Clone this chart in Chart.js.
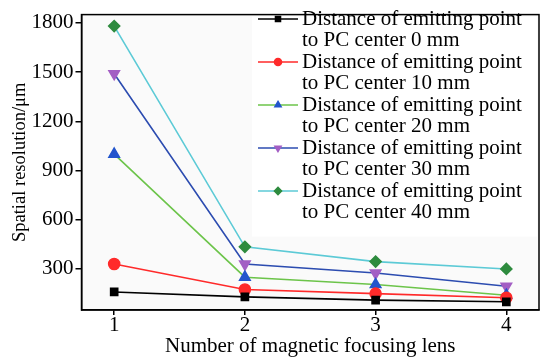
<!DOCTYPE html>
<html><head><meta charset="utf-8">
<script src="https://cdn.jsdelivr.net/npm/chart.js@4/dist/chart.umd.min.js"></script>
<style>html,body{margin:0;padding:0;background:#fff}#wrap{width:547px;height:361px}</style>
</head><body><div id="wrap"><canvas id="c" width="547" height="361"></canvas></div>
<script>
const lensCounts = [1, 2, 3, 4];
const labels = [
  "Distance of emitting point\nto PC center 0 mm",
  "Distance of emitting point\nto PC center 10 mm",
  "Distance of emitting point\nto PC center 20 mm",
  "Distance of emitting point\nto PC center 30 mm",
  "Distance of emitting point\nto PC center 40 mm"
];
const d0 = [160, 130, 110, 100];
const d10 = [330, 175, 150, 125];
const d20 = [1000, 250, 205, 140];
const d30 = [1490, 330, 275, 195];
const d40 = [1780, 435, 345, 300];
const yTicks = [300, 600, 900, 1200, 1500, 1800];
const xTicks = [1, 2, 3, 4];

const lineColors = ['#000000', '#ff2a2a', '#6cc44a', '#2c4cb0', '#5ccad6'];
const markColors = ['#000000', '#ff2a2a', '#2255cc', '#a35ec4', '#2e8b3e'];
const markStyles = ['rect', 'circle', 'triangle', 'triangle', 'rectRot'];
const markRot = [0, 0, 0, 180, 0];
const markRad = [5, 5.5, 6, 6, 5.5];
const series = [d0, d10, d20, d30, d40];
const FONT = "'Liberation Serif', 'Times New Roman', serif";

const datasets = series.map((s, i) => ({
  label: labels[i],
  data: s.map((v, j) => ({x: lensCounts[j], y: v})),
  borderColor: lineColors[i],
  backgroundColor: markColors[i],
  pointBackgroundColor: markColors[i],
  pointBorderColor: markColors[i],
  pointStyle: markStyles[i],
  rotation: markRot[i],
  pointRadius: markRad[i],
  borderWidth: 1.6,
  tension: 0
}));

const framePlugin = {
  id: 'frame',
  beforeDraw(chart) {
    const {ctx, chartArea: a} = chart;
    ctx.save();
    ctx.fillStyle = '#fafafa';
    ctx.fillRect(a.left, a.top, a.right - a.left, a.bottom - a.top);
    ctx.restore();
  },
  afterDraw(chart) {
    const {ctx, chartArea: a} = chart;
    ctx.save();
    ctx.strokeStyle = '#000';
    ctx.lineWidth = 1.5;
    ctx.strokeRect(a.left, a.top, a.right - a.left, a.bottom - a.top);
    ctx.restore();
  }
};

const legendPlugin = {
  id: 'customLegend',
  afterDatasetsDraw(chart) {
    const {ctx, chartArea: a} = chart;
    ctx.save();
    const x0 = 252, y0 = a.top + 2;
    ctx.fillStyle = '#ffffff';
    ctx.fillRect(x0, y0, a.right - x0 - 2, 220);
    ctx.font = '21px ' + FONT;
    ctx.textBaseline = 'middle';
    ctx.textAlign = 'left';
    const lineH = 21.5;
    chart.data.datasets.forEach((ds, i) => {
      const yy = 19 + i * 2 * lineH;
      ctx.strokeStyle = ds.borderColor;
      ctx.lineWidth = 1.6;
      ctx.beginPath(); ctx.moveTo(258, yy); ctx.lineTo(298, yy); ctx.stroke();
      ctx.fillStyle = ds.pointBackgroundColor;
      ctx.strokeStyle = ds.pointBorderColor;
      Chart.helpers.drawPoint(ctx, {pointStyle: ds.pointStyle, rotation: ds.rotation, radius: 3.5, borderWidth: 1}, 278, yy);
      ctx.fillStyle = '#000';
      ds.label.split('\n').forEach((t, k) => ctx.fillText(t, 302, yy + k * lineH));
    });
    ctx.restore();
  }
};

new Chart(document.getElementById('c'), {
  type: 'line',
  data: {datasets},
  options: {
    responsive: false,
    animation: false,
    layout: {padding: {left: 9, right: 8, top: 5, bottom: 4}},
    plugins: {legend: {display: false}, tooltip: {enabled: false}},
    scales: {
      x: {
        type: 'linear', min: 0.75, max: 4.25,
        afterBuildTicks: s => { s.ticks = xTicks.map(v => ({value: v})); },
        grid: {drawOnChartArea: false, drawTicks: true, tickLength: 5, color: '#000', lineWidth: 1.5},
        border: {color: '#000', width: 1.5},
        ticks: {color: '#000', font: {family: FONT, size: 21, lineHeight: 1.0}, padding: 0, maxRotation: 0, callback: v => String(v)},
        title: {display: true, text: 'Number of magnetic focusing lens', color: '#000', font: {family: FONT, size: 21, lineHeight: 1.0}, padding: {top: 0, bottom: 0}}
      },
      y: {
        type: 'linear', min: 50, max: 1850,
        afterBuildTicks: s => { s.ticks = yTicks.map(v => ({value: v})); },
        grid: {drawOnChartArea: false, drawTicks: true, tickLength: 6, color: '#000', lineWidth: 1.5},
        border: {color: '#000', width: 1.5},
        ticks: {color: '#000', font: {family: FONT, size: 21}, padding: 2, callback: v => String(v)},
        title: {display: true, text: 'Spatial resolution/μm', color: '#000', font: {family: FONT, size: 18.5, lineHeight: 1.0}, padding: {top: 2, bottom: 0}}
      }
    }
  },
  plugins: [framePlugin, legendPlugin]
});
</script></body></html>
